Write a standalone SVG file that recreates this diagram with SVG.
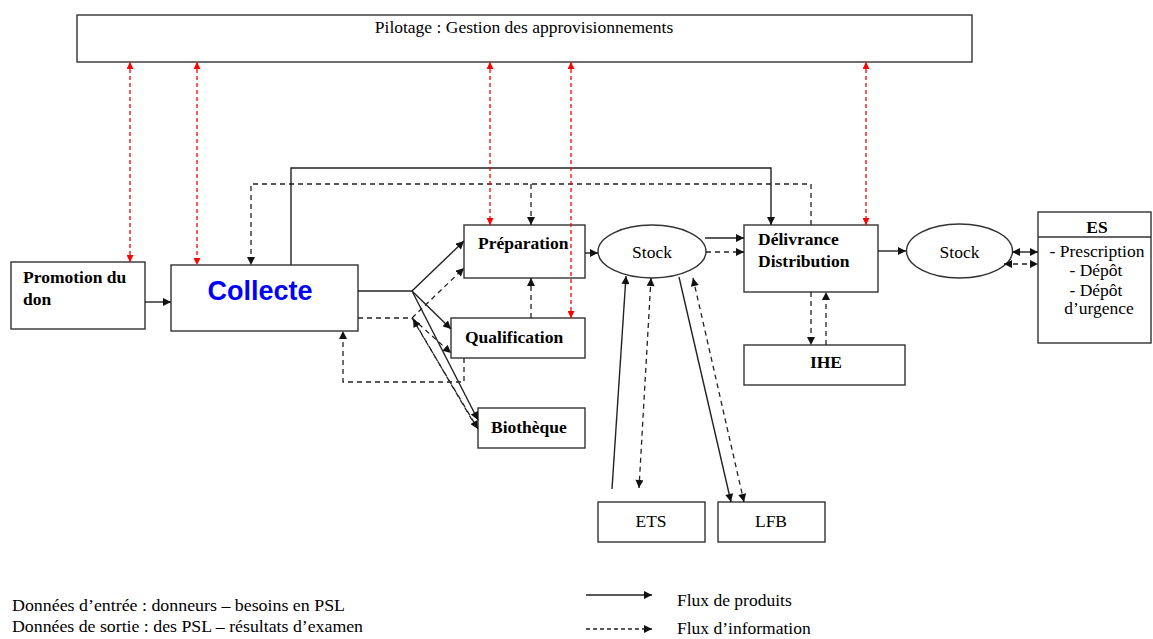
<svg xmlns="http://www.w3.org/2000/svg" width="1153" height="639" viewBox="0 0 1153 639">
<style>
.box{fill:#fff;stroke:#333;stroke-width:1.4}
.t{font-family:"Liberation Serif","Times New Roman",serif;font-size:17.5px;fill:#000}
.b{font-weight:bold}
.c{text-anchor:middle}
.s{fill:none;stroke:#222;stroke-width:1.4}
.d{fill:none;stroke:#222;stroke-width:1.3;stroke-dasharray:5,4}
.r{fill:none;stroke:#ff0000;stroke-width:1.3;stroke-dasharray:4,3}
</style>
<defs>
<marker id="a" viewBox="0 0 10 10" refX="10" refY="5" markerWidth="9" markerHeight="8" markerUnits="userSpaceOnUse" orient="auto-start-reverse"><path d="M0,0 L10,5 L0,10 z" fill="#111"/></marker>
<marker id="ar" viewBox="0 0 10 10" refX="10" refY="5" markerWidth="8" markerHeight="7" markerUnits="userSpaceOnUse" orient="auto-start-reverse"><path d="M0,0 L10,5 L0,10 z" fill="#ff0000"/></marker>
</defs>

<g id="pilotage"><rect class="box" x="77" y="15" width="895" height="47"/><text class="t c" x="524" y="33">Pilotage : Gestion des approvisionnements</text></g>
<g id="promotion"><rect class="box" x="11" y="262" width="134" height="67"/><text class="t b" x="23" y="283">Promotion du</text><text class="t b" x="23" y="305">don</text></g>
<g id="collecte"><rect class="box" x="171" y="265" width="187" height="66"/><text x="260" y="300" text-anchor="middle" font-family="'Liberation Sans',Arial,sans-serif" font-weight="bold" font-size="27" fill="#0000ff">Collecte</text></g>
<g id="preparation"><rect class="box" x="464" y="225" width="121" height="53"/><text class="t b" x="478" y="249">Préparation</text></g>
<g id="qualification"><rect class="box" x="451" y="318" width="134" height="40"/><text class="t b" x="465" y="343">Qualification</text></g>
<g id="biotheque"><rect class="box" x="478" y="408" width="107" height="40"/><text class="t b" x="491" y="433">Biothèque</text></g>
<g id="stock1"><ellipse cx="652" cy="251.5" rx="54" ry="26.5" fill="#fff" stroke="#333" stroke-width="1.4"/><text class="t c" x="652" y="258">Stock</text></g>
<g id="delivrance"><rect class="box" x="744" y="225" width="134" height="67"/><text class="t b" x="758" y="245">Délivrance</text><text class="t b" x="758" y="267">Distribution</text></g>
<g id="ihe"><rect class="box" x="744" y="345" width="161" height="40"/><text class="t b c" x="826" y="368">IHE</text></g>
<g id="stock2"><ellipse cx="959.5" cy="251" rx="53" ry="27" fill="#fff" stroke="#333" stroke-width="1.4"/><text class="t c" x="959.5" y="258">Stock</text></g>
<g id="es"><rect class="box" x="1038" y="212" width="113" height="131"/><line x1="1038" y1="237" x2="1151" y2="237" stroke="#333" stroke-width="1.4"/><text class="t b c" x="1097" y="233">ES</text><text class="t c" x="1097" y="257">- Prescription</text><text class="t c" x="1096" y="276">- Dépôt</text><text class="t c" x="1096" y="296">- Dépôt</text><text class="t c" x="1099" y="314">d’urgence</text></g>
<g id="ets"><rect class="box" x="598" y="502" width="107" height="40"/><text class="t c" x="651" y="527">ETS</text></g>
<g id="lfb"><rect class="box" x="718" y="502" width="107" height="40"/><text class="t c" x="771" y="527">LFB</text></g>

<g id="connectors">
<line class="s" x1="145" y1="302" x2="171" y2="302" marker-end="url(#a)"/>
<line class="s" x1="358" y1="291" x2="412" y2="291"/>
<line class="s" x1="412" y1="291" x2="464" y2="241" marker-end="url(#a)"/>
<line class="s" x1="412" y1="291" x2="451" y2="329" marker-end="url(#a)"/>
<line class="s" x1="412" y1="291" x2="478" y2="420" marker-end="url(#a)"/>
<polyline class="s" points="291,265 291,168 771,168 771,225" marker-end="url(#a)"/>
<line class="s" x1="585" y1="253" x2="598" y2="253" marker-end="url(#a)"/>
<line class="s" x1="705" y1="238" x2="744" y2="238" marker-end="url(#a)"/>
<line class="s" x1="878" y1="251" x2="906" y2="251" marker-end="url(#a)"/>
<line class="s" x1="1012" y1="252" x2="1038" y2="252" marker-start="url(#a)" marker-end="url(#a)"/>
<line class="s" x1="612" y1="489" x2="626" y2="276" marker-end="url(#a)"/>
<line class="s" x1="679" y1="277" x2="731" y2="502" marker-end="url(#a)"/>

<polyline class="d" points="811,225 811,184 251,184 251,265" marker-end="url(#a)"/>
<line class="d" x1="531" y1="184" x2="531" y2="225" marker-end="url(#a)"/>
<line class="d" x1="531" y1="318" x2="531" y2="278" marker-end="url(#a)"/>
<polyline class="d" points="464,358 464,382 343,382 343,331" marker-end="url(#a)"/>
<line class="d" x1="358" y1="318" x2="412" y2="318"/>
<line class="d" x1="412" y1="318" x2="464" y2="268" marker-end="url(#a)"/>
<line class="d" x1="412" y1="318" x2="451" y2="353" marker-end="url(#a)"/>
<line class="d" x1="412" y1="318" x2="478" y2="429" marker-end="url(#a)"/>
<line class="d" x1="472" y1="420" x2="413" y2="319" marker-end="url(#a)"/>
<line class="d" x1="706" y1="252" x2="744" y2="252" marker-end="url(#a)"/>
<line class="d" x1="811" y1="292" x2="811" y2="345" marker-end="url(#a)"/>
<line class="d" x1="826" y1="345" x2="826" y2="292" marker-end="url(#a)"/>
<line class="d" x1="1004" y1="264" x2="1038" y2="264" marker-start="url(#a)" marker-end="url(#a)"/>
<line class="d" x1="651" y1="278" x2="639" y2="488" marker-start="url(#a)" marker-end="url(#a)"/>
<line class="d" x1="693" y1="278" x2="744" y2="502" marker-start="url(#a)" marker-end="url(#a)"/>

<line class="r" x1="130" y1="62" x2="130" y2="262" marker-start="url(#ar)" marker-end="url(#ar)"/>
<line class="r" x1="197" y1="62" x2="197" y2="265" marker-start="url(#ar)" marker-end="url(#ar)"/>
<line class="r" x1="490" y1="62" x2="490" y2="225" marker-start="url(#ar)" marker-end="url(#ar)"/>
<line class="r" x1="571" y1="62" x2="571" y2="318" marker-start="url(#ar)" marker-end="url(#ar)"/>
<line class="r" x1="866" y1="62" x2="866" y2="225" marker-start="url(#ar)" marker-end="url(#ar)"/>
</g>

<g id="legend">
<text class="t" x="12" y="611" font-size="17" textLength="333" lengthAdjust="spacingAndGlyphs">Données d’entrée : donneurs – besoins en PSL</text>
<text class="t" x="12" y="632" font-size="17" textLength="351" lengthAdjust="spacingAndGlyphs">Données de sortie : des PSL – résultats d’examen</text>
<line class="s" x1="586" y1="595" x2="652" y2="595" marker-end="url(#a)"/>
<line class="d" x1="586" y1="629" x2="652" y2="629" style="stroke-dasharray:4,3" marker-end="url(#a)"/>
<text class="t" x="677" y="606">Flux de produits</text>
<text class="t" x="677" y="634">Flux d’information</text>
</g>
</svg>
